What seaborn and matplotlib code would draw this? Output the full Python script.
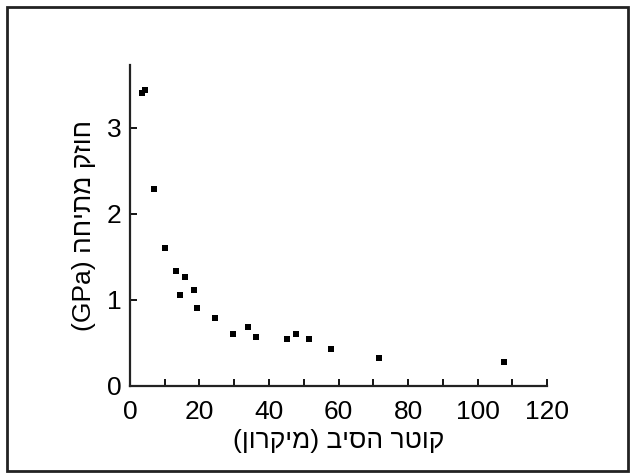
# Fiber diameter vs tensile strength scatter
import matplotlib
matplotlib.use("Agg")
import matplotlib.pyplot as plt
import seaborn as sns
import pandas as pd
from matplotlib.patches import Rectangle

# data
diameter_um = [3.5, 4.3, 6.9, 10.1, 13.2, 14.5, 15.8, 18.4, 19.4, 24.6,
               29.7, 34.0, 36.2, 45.1, 47.7, 51.6, 57.7, 71.6, 107.7]
strength_gpa = [3.40, 3.44, 2.29, 1.60, 1.34, 1.06, 1.27, 1.12, 0.91, 0.79,
                0.60, 0.68, 0.57, 0.55, 0.60, 0.54, 0.43, 0.33, 0.28]
x_ticks = [0, 20, 40, 60, 80, 100, 120]
y_ticks = [0, 1, 2, 3]

# hebrew labels typed in visual (left-to-right) order
x_label = "(ןורקימ) ביסה רטוק"
y_label = "(GPa) החיתמ קזוח"

df = pd.DataFrame({"d": diameter_um, "s": strength_gpa})

sns.set_style("ticks")
plt.rcParams['font.family'] = ['Liberation Sans', 'DejaVu Sans']
plt.rcParams['text.color'] = 'black'
plt.rcParams['xtick.color'] = 'black'
plt.rcParams['ytick.color'] = 'black'
plt.rcParams['axes.labelcolor'] = 'black'

fig = plt.figure(figsize=(6.34, 4.73), dpi=100)
ax = fig.add_axes([0.205, 0.184, 0.658, 0.679])

sns.scatterplot(x="d", y="s", data=df, marker="s", color="black",
                s=22, linewidth=0, ax=ax)

ax.set_xlim(0, 120)
ax.set_ylim(0, 3.73)
ax.set_xticks(x_ticks)
ax.set_xticks(range(10, 120, 20), minor=True)
ax.set_yticks(y_ticks)

for side in ["top", "right"]:
    ax.spines[side].set_visible(False)
for side in ["left", "bottom"]:
    ax.spines[side].set_linewidth(1.6)
    ax.spines[side].set_color("#222222")

ax.tick_params(axis="both", which="both", direction="in", width=1.3)
ax.tick_params(axis="x", which="major", length=5, pad=10, labelsize=19)
ax.tick_params(axis="x", which="minor", length=5)
ax.tick_params(axis="y", which="major", length=5, pad=6, labelsize=19)

ax.set_xlabel(x_label, fontsize=19, labelpad=4)
ax.set_ylabel(y_label, fontsize=19, labelpad=8)

# dark frame around the whole figure
fig.patches.append(Rectangle((0.011, 0.004), 0.979, 0.981,
                             transform=fig.transFigure, fill=False,
                             edgecolor="#222222", linewidth=2))

plt.savefig("out.png", dpi=100)
